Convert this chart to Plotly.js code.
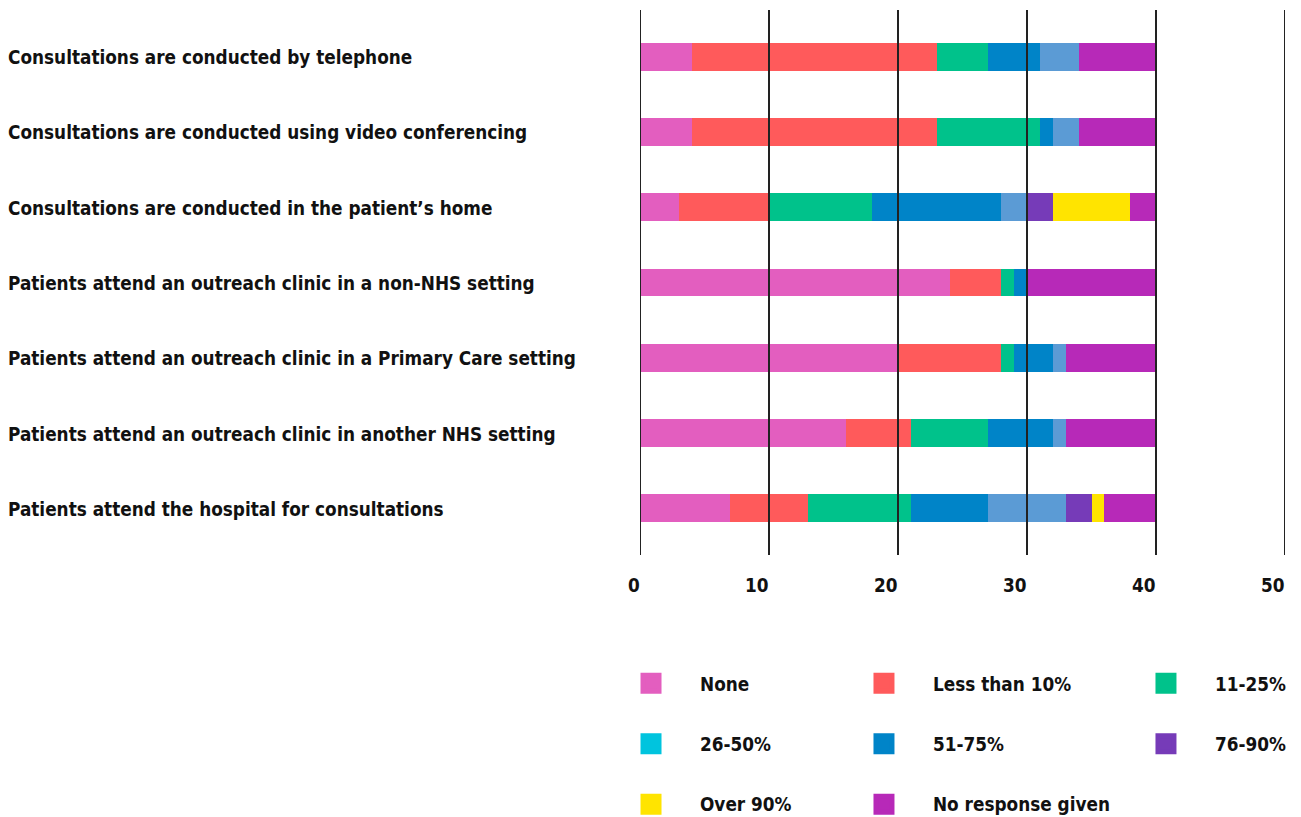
<!DOCTYPE html>
<html>
<head>
<meta charset="utf-8">
<script src="https://cdn.plot.ly/plotly-3.0.1.min.js"></script>
<style>html,body{margin:0;padding:0;background:#fff;}#chart{width:1301px;height:817px;}</style>
</head>
<body>
<div id="chart"></div>
<script>
const categories = [
  "Consultations are conducted by telephone",
  "Consultations are conducted using video conferencing",
  "Consultations are conducted in the patient’s home",
  "Patients attend an outreach clinic in a non-NHS setting",
  "Patients attend an outreach clinic in a Primary Care setting",
  "Patients attend an outreach clinic in another NHS setting",
  "Patients attend the hospital for consultations"
];
const none        = [4, 4, 3, 24, 20, 16, 7];
const lessThan10  = [19, 19, 7, 4, 8, 5, 6];
const p11to25     = [4, 8, 8, 1, 1, 6, 8];
const p26to50     = [0, 0, 0, 0, 0, 0, 0];
const p51to75     = [4, 1, 10, 1, 3, 5, 6];
const unlabelled  = [3, 2, 2, 0, 1, 1, 6];
const p76to90     = [0, 0, 2, 0, 0, 0, 2];
const over90      = [0, 0, 6, 0, 0, 0, 1];
const noResponse  = [6, 6, 2, 10, 7, 7, 4];

const tickValues = [0, 10, 20, 30, 40, 50];
const tickLabels = ["0", "10", "20", "30", "40", "50"];

const FONT = "DejaVu Sans Condensed, Liberation Sans Narrow, sans-serif";
const FS = 18.8;

const series = [
  {name: "None", values: none, color: "#E35EBF", legend: "legend"},
  {name: "Less than 10%", values: lessThan10, color: "#FF5A5B", legend: "legend2"},
  {name: "11-25%", values: p11to25, color: "#00C28B", legend: "legend3"},
  {name: "26-50%", values: p26to50, color: "#00C4DE", legend: "legend"},
  {name: "51-75%", values: p51to75, color: "#0084C8", legend: "legend2"},
  {name: "Other", values: unlabelled, color: "#5B9BD5", legend: null},
  {name: "76-90%", values: p76to90, color: "#763BB8", legend: "legend3"},
  {name: "Over 90%", values: over90, color: "#FFE400", legend: "legend"},
  {name: "No response given", values: noResponse, color: "#B729B8", legend: "legend2"}
];

const traces = [];
series.forEach(s => {
  traces.push({
    type: "bar", orientation: "h", name: s.name,
    y: categories, x: s.values,
    marker: {color: s.color, line: {width: 0}},
    showlegend: false, hoverinfo: "x+name"
  });
});
series.forEach(s => {
  if (!s.legend) return;
  traces.push({
    type: "scatter", mode: "markers", name: s.name,
    x: [null], y: [null],
    marker: {symbol: "square", size: 16, color: s.color, line: {width: 5, color: s.color}},
    legend: s.legend, legendgroup: s.name, showlegend: true
  });
});

const shapes = tickValues.map(v => ({
  type: "line", xref: "x", yref: "paper", x0: v, x1: v, y0: 0, y1: 1,
  line: {color: "#222222", width: 2}, layer: "above"
}));

const annotations = [];
tickValues.forEach((v, i) => {
  annotations.push({
    xref: "x", yref: "paper", x: v, y: 0, yshift: -30, xshift: 2,
    text: tickLabels[i], showarrow: false, xanchor: "right", yanchor: "middle",
    font: {family: FONT, size: FS, color: "#111", weight: 700}
  });
});
categories.forEach(c => {
  annotations.push({
    xref: "paper", yref: "y", x: -634/645, y: c, yshift: -1,
    text: c, showarrow: false, xanchor: "left", yanchor: "middle",
    font: {family: FONT, size: FS, color: "#111", weight: 700}
  });
});

const legendBase = {
  orientation: "v", yanchor: "top", xanchor: "left", y: -0.201,
  bgcolor: "rgba(0,0,0,0)", borderwidth: 0,
  traceorder: "grouped", tracegroupgap: 33, itemsizing: "trace", itemwidth: 88,
  font: {family: FONT, size: FS, color: "#111", weight: 700}
};

const layout = {
  width: 1301, height: 817,
  margin: {l: 640, r: 16, t: 10, b: 262, autoexpand: false},
  paper_bgcolor: "#fff", plot_bgcolor: "#fff",
  barmode: "stack", bargap: 0.63,
  xaxis: {range: [0, 50], showgrid: false, zeroline: false, showticklabels: false, showline: false, ticks: ""},
  yaxis: {type: "category", categoryorder: "array", categoryarray: categories, range: [6.62, -0.62],
          showgrid: false, zeroline: false, showticklabels: false, showline: false, ticks: ""},
  shapes: shapes,
  annotations: annotations,
  legend: Object.assign({}, legendBase, {x: -0.0589}),
  legend2: Object.assign({}, legendBase, {x: 0.3023}),
  legend3: Object.assign({}, legendBase, {x: 0.7395}),
  hovermode: "closest"
};

Plotly.newPlot("chart", traces, layout, {displayModeBar: false});
</script>
</body>
</html>
